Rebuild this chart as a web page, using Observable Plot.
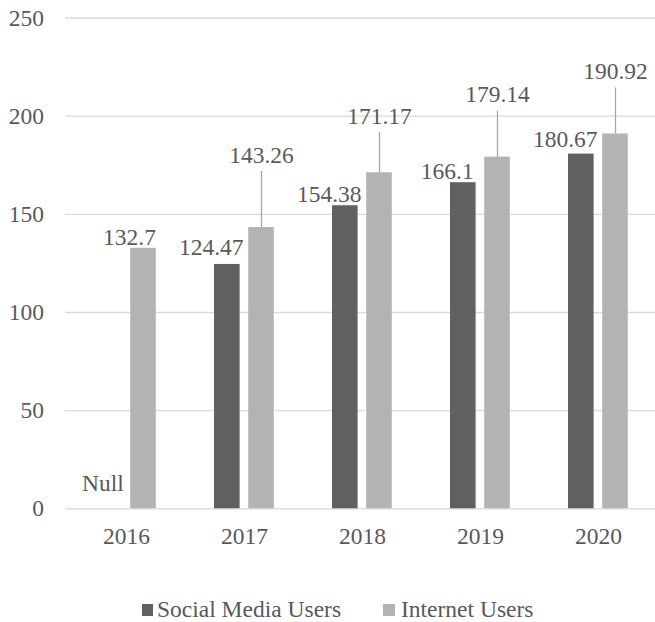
<!DOCTYPE html>
<html><head><meta charset="utf-8">
<script src="https://cdn.jsdelivr.net/npm/d3@7"></script>
<script src="https://cdn.jsdelivr.net/npm/@observablehq/plot@0.6"></script>
<style>
body{margin:0;background:#fff;}
#wrap{position:relative;width:655px;height:622px;font-family:"Liberation Serif","Times New Roman",serif;color:#595959;}
#wrap svg{position:absolute;left:0;top:0;}
.lg{position:absolute;font-size:23.5px;line-height:23px;white-space:nowrap;}
.sw{position:absolute;width:11.5px;height:11.5px;}
</style></head><body><div id="wrap"></div>
<script>
// ---- data ----
const years = ["2016", "2017", "2018", "2019", "2020"];
const socialMedia = [null, 124.47, 154.38, 166.1, 180.67];
const internet = [132.7, 143.26, 171.17, 179.14, 190.92];
const seriesNames = ["Social Media Users", "Internet Users"];
const yTicks = [0, 50, 100, 150, 200, 250];
const nullLabel = "Null";

// ---- layout (pixels) ----
const W = 655, H = 560, mL = 65, mT = 17.5, mB = 51.7;
const xRange = [65, 658];
const k = (H - mB - mT) / 250;
const bw = (xRange[1] - xRange[0]) / years.length;
const barW = 26.2, barL = 29;
const darkIn = [barL, bw - barL - barW];
const lightIn = [barL + barW + 8, bw - (barL + barW + 8) - barW];
const darkDx = barL + barW / 2 - bw / 2;
const lightDx = barL + barW + 8 + barW / 2 - bw / 2;
const socialLift = [null, 9, 4, 4, 7];
const internetLift = [3.3, 65, 49, 55, 55];
const leaderGap = 9;
const colors = ["#606060", "#b3b3b3"];
const textColor = "#595959";
const font = "'Liberation Serif','Times New Roman',serif";
const fs = 23.5;

const socialRows = years.map((y, i) => ({year: y, value: socialMedia[i], lift: socialLift[i]}));
const internetRows = years.map((y, i) => ({year: y, value: internet[i], lift: internetLift[i]}));
const socialVals = socialRows.filter(d => d.value != null);
const socialNull = socialRows.filter(d => d.value == null);
const leaderRows = internetRows.filter(d => d.lift > 20);
const plainRows = internetRows.filter(d => d.lift <= 20);

const chart = Plot.plot({
  width: W, height: H, marginLeft: mL, marginRight: 0, marginTop: mT, marginBottom: mB,
  style: {fontFamily: font, fontSize: fs + "px", color: textColor, background: "transparent"},
  x: {type: "band", domain: years, range: xRange, padding: 0, tickSize: 0, tickPadding: 19, label: null},
  y: {domain: [0, 250], ticks: yTicks, tickSize: 0, tickPadding: 21.5, label: null},
  marks: [
    Plot.ruleY(yTicks, {stroke: "#d9d9d9", strokeWidth: 1.3}),
    Plot.barY(socialVals, {x: "year", y: "value", fill: colors[0], insetLeft: darkIn[0], insetRight: darkIn[1]}),
    Plot.barY(internetRows, {x: "year", y: "value", fill: colors[1], insetLeft: lightIn[0], insetRight: lightIn[1]}),
    Plot.ruleX(leaderRows, {x: "year", y1: "value", y2: d => d.value + (d.lift - leaderGap) / k, dx: lightDx, stroke: "#a6a6a6", strokeWidth: 1.3}),
    Plot.text(socialVals, {x: "year", y: d => d.value + d.lift / k, text: d => String(d.value), dx: darkDx - 16, lineAnchor: "bottom", fill: textColor, fontSize: fs, fontFamily: font}),
    Plot.text(socialNull, {x: "year", y: d => 17.6 / k, text: () => nullLabel, dx: darkDx - 6.5, lineAnchor: "bottom", fill: textColor, fontSize: fs, fontFamily: font}),
    Plot.text(leaderRows, {x: "year", y: d => d.value + d.lift / k, text: d => String(d.value), dx: lightDx, lineAnchor: "bottom", fill: textColor, fontSize: fs, fontFamily: font}),
    Plot.text(plainRows, {x: "year", y: d => d.value + d.lift / k, text: d => String(d.value), dx: lightDx - 14, lineAnchor: "bottom", fill: textColor, fontSize: fs, fontFamily: font})
  ]
});
const wrap = document.getElementById("wrap");
wrap.appendChild(chart);

// legend
const legendPos = [{sw: 141.5, tx: 157}, {sw: 383, tx: 401}];
seriesNames.forEach((name, i) => {
  const s = document.createElement("div");
  s.className = "sw"; s.style.left = legendPos[i].sw + "px"; s.style.top = "604px"; s.style.background = colors[i];
  wrap.appendChild(s);
  const t = document.createElement("div");
  t.className = "lg"; t.style.left = legendPos[i].tx + "px"; t.style.top = "597.5px"; t.textContent = name;
  wrap.appendChild(t);
});
</script></body></html>
